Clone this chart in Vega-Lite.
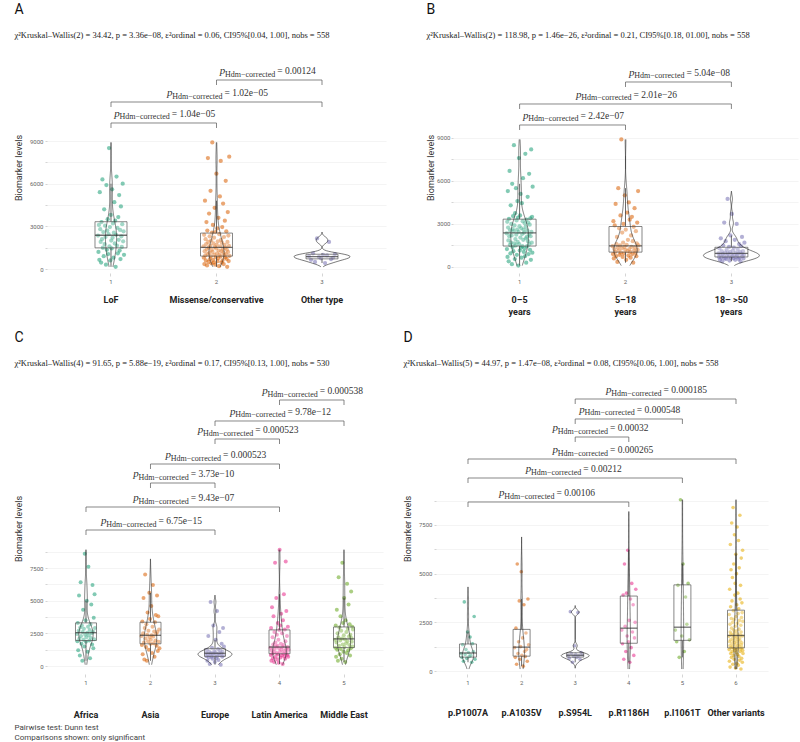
{
"$schema":"https://vega.github.io/schema/vega-lite/v6.json",
"background":"white",
"padding":{"left":14,"top":2,"right":2,"bottom":0},
"config":{"view":{"stroke":null},"font":"Roboto"},
"title":{"text":"Pairwise test: Dunn test","subtitle":"Comparisons shown: only significant","orient":"bottom","anchor":"start","font":"Roboto","fontSize":8,"fontWeight":"normal","color":"#444444","subtitleFont":"Roboto","subtitleFontSize":8,"subtitleColor":"#444444","subtitlePadding":2,"offset":5},
"datasets":{
"A":[{"g":1,"v":2350},{"g":1,"v":1200},{"g":1,"v":3100},{"g":1,"v":650},{"g":1,"v":5400},{"g":1,"v":2800},{"g":1,"v":1900},{"g":1,"v":450},{"g":1,"v":3300},{"g":1,"v":2100},{"g":1,"v":6300},{"g":1,"v":1500},{"g":1,"v":2600},{"g":1,"v":900},{"g":1,"v":4200},{"g":1,"v":1750},{"g":1,"v":3050},{"g":1,"v":2250},{"g":1,"v":300},{"g":1,"v":5900},{"g":1,"v":1350},{"g":1,"v":2700},{"g":1,"v":3500},{"g":1,"v":1050},{"g":1,"v":2450},{"g":1,"v":8500},{"g":1,"v":1600},{"g":1,"v":2950},{"g":1,"v":600},{"g":1,"v":3800},{"g":1,"v":2000},{"g":1,"v":1450},{"g":1,"v":5600},{"g":1,"v":2200},{"g":1,"v":3200},{"g":1,"v":800},{"g":1,"v":2550},{"g":1,"v":4700},{"g":1,"v":1800},{"g":1,"v":3400},{"g":1,"v":150},{"g":1,"v":2400},{"g":1,"v":6500},{"g":1,"v":1650},{"g":1,"v":2900},{"g":1,"v":1100},{"g":1,"v":3650},{"g":1,"v":2050},{"g":1,"v":5200},{"g":1,"v":1300},{"g":1,"v":2750},{"g":1,"v":700},{"g":1,"v":4400},{"g":1,"v":2300},{"g":1,"v":1550},{"g":1,"v":3150},{"g":1,"v":6000},{"g":1,"v":1950},{"g":1,"v":2650},{"g":1,"v":1000},
{"g":2,"v":1600},{"g":2,"v":800},{"g":2,"v":2400},{"g":2,"v":350},{"g":2,"v":1250},{"g":2,"v":4800},{"g":2,"v":950},{"g":2,"v":2100},{"g":2,"v":600},{"g":2,"v":1750},{"g":2,"v":3300},{"g":2,"v":1400},{"g":2,"v":250},{"g":2,"v":2700},{"g":2,"v":1050},{"g":2,"v":7800},{"g":2,"v":1900},{"g":2,"v":500},{"g":2,"v":1500},{"g":2,"v":3900},{"g":2,"v":1150},{"g":2,"v":2300},{"g":2,"v":700},{"g":2,"v":1650},{"g":2,"v":5500},{"g":2,"v":900},{"g":2,"v":2000},{"g":2,"v":400},{"g":2,"v":1350},{"g":2,"v":2550},{"g":2,"v":8900},{"g":2,"v":1200},{"g":2,"v":3100},{"g":2,"v":650},{"g":2,"v":1800},{"g":2,"v":450},{"g":2,"v":2200},{"g":2,"v":1000},{"g":2,"v":4300},{"g":2,"v":1550},{"g":2,"v":300},{"g":2,"v":2600},{"g":2,"v":850},{"g":2,"v":1450},{"g":2,"v":6700},{"g":2,"v":1700},{"g":2,"v":1100},{"g":2,"v":2850},{"g":2,"v":550},{"g":2,"v":1950},{"g":2,"v":750},{"g":2,"v":3600},{"g":2,"v":1300},{"g":2,"v":200},{"g":2,"v":2450},{"g":2,"v":1000},{"g":2,"v":5100},{"g":2,"v":1600},{"g":2,"v":880},{"g":2,"v":7600},{"g":2,"v":2050},{"g":2,"v":1250},{"g":2,"v":450},{"g":2,"v":1850},{"g":2,"v":2950},{"g":2,"v":600},{"g":2,"v":1400},{"g":2,"v":4600},{"g":2,"v":1150},{"g":2,"v":350},{"g":2,"v":2250},{"g":2,"v":980},{"g":2,"v":1700},{"g":2,"v":3400},{"g":2,"v":820},{"g":2,"v":1500},{"g":2,"v":6200},{"g":2,"v":1050},{"g":2,"v":2650},{"g":2,"v":720},{"g":2,"v":1350},{"g":2,"v":150},{"g":2,"v":1900},{"g":2,"v":4000},{"g":2,"v":1200},{"g":2,"v":2350},{"g":2,"v":560},{"g":2,"v":1620},{"g":2,"v":7900},{"g":2,"v":930},
{"g":3,"v":900},{"g":3,"v":650},{"g":3,"v":1100},{"g":3,"v":500},{"g":3,"v":2150},{"g":3,"v":850},{"g":3,"v":750},{"g":3,"v":1000},{"g":3,"v":420},{"g":3,"v":950},{"g":3,"v":1900},{"g":3,"v":700},{"g":3,"v":800},{"g":3,"v":1050}],
"bA":[{"g":1,"g2":2,"v":10266,"lab":"= 1.04e−05"},{"g":1,"g2":3,"v":11742,"lab":"= 1.02e−05"},{"g":2,"g2":3,"v":13289,"lab":"= 0.00124"}],
"B":[{"g":1,"v":2350},{"g":1,"v":1250},{"g":1,"v":3150},{"g":1,"v":700},{"g":1,"v":5300},{"g":1,"v":2750},{"g":1,"v":1850},{"g":1,"v":400},{"g":1,"v":3350},{"g":1,"v":2150},{"g":1,"v":6700},{"g":1,"v":1550},{"g":1,"v":2550},{"g":1,"v":950},{"g":1,"v":4300},{"g":1,"v":1700},{"g":1,"v":3000},{"g":1,"v":2200},{"g":1,"v":200},{"g":1,"v":5800},{"g":1,"v":1400},{"g":1,"v":2650},{"g":1,"v":3550},{"g":1,"v":1100},{"g":1,"v":2500},{"g":1,"v":8500},{"g":1,"v":1650},{"g":1,"v":2900},{"g":1,"v":550},{"g":1,"v":3750},{"g":1,"v":1950},{"g":1,"v":1500},{"g":1,"v":5500},{"g":1,"v":2250},{"g":1,"v":3250},{"g":1,"v":850},{"g":1,"v":2600},{"g":1,"v":4600},{"g":1,"v":1750},{"g":1,"v":3450},{"g":1,"v":100},{"g":1,"v":2450},{"g":1,"v":7600},{"g":1,"v":1600},{"g":1,"v":2850},{"g":1,"v":1150},{"g":1,"v":3600},{"g":1,"v":2050},{"g":1,"v":5100},{"g":1,"v":1350},{"g":1,"v":2700},{"g":1,"v":650},{"g":1,"v":4450},{"g":1,"v":2300},{"g":1,"v":1450},{"g":1,"v":3200},{"g":1,"v":6200},{"g":1,"v":1900},{"g":1,"v":2600},{"g":1,"v":1050},{"g":1,"v":2400},{"g":1,"v":1300},{"g":1,"v":3050},{"g":1,"v":750},{"g":1,"v":7900},{"g":1,"v":2800},{"g":1,"v":2000},{"g":1,"v":300},{"g":1,"v":3300},{"g":1,"v":2100},{"g":1,"v":1450},{"g":1,"v":2550},{"g":1,"v":4900},{"g":1,"v":1800},{"g":1,"v":3100},{"g":1,"v":900},{"g":1,"v":2250},{"g":1,"v":6500},{"g":1,"v":1600},{"g":1,"v":2950},{"g":1,"v":1200},{"g":1,"v":3400},{"g":1,"v":2150},{"g":1,"v":500},{"g":1,"v":8200},{"g":1,"v":2450},{"g":1,"v":1700},{"g":1,"v":3500},{"g":1,"v":1000},{"g":1,"v":5600},
{"g":2,"v":1450},{"g":2,"v":900},{"g":2,"v":3200},{"g":2,"v":600},{"g":2,"v":1250},{"g":2,"v":2900},{"g":2,"v":1050},{"g":2,"v":4400},{"g":2,"v":750},{"g":2,"v":1600},{"g":2,"v":2100},{"g":2,"v":350},{"g":2,"v":1350},{"g":2,"v":5500},{"g":2,"v":1150},{"g":2,"v":2700},{"g":2,"v":850},{"g":2,"v":1500},{"g":2,"v":3600},{"g":2,"v":1000},{"g":2,"v":8900},{"g":2,"v":1300},{"g":2,"v":2400},{"g":2,"v":700},{"g":2,"v":1700},{"g":2,"v":3000},{"g":2,"v":950},{"g":2,"v":1400},{"g":2,"v":5000},{"g":2,"v":1200},{"g":2,"v":2600},{"g":2,"v":500},{"g":2,"v":1550},{"g":2,"v":3800},{"g":2,"v":1100},{"g":2,"v":1900},{"g":2,"v":800},{"g":2,"v":4500},{"g":2,"v":1250},{"g":2,"v":3300},{"g":2,"v":1050},{"g":2,"v":650},{"g":2,"v":2200},{"g":2,"v":1400},{"g":2,"v":3500},{"g":2,"v":900},{"g":2,"v":1800},{"g":2,"v":300},{"g":2,"v":2800},{"g":2,"v":1150},{"g":2,"v":4100},{"g":2,"v":1350},{"g":2,"v":1000},{"g":2,"v":2500},{"g":2,"v":750},{"g":2,"v":1650},{"g":2,"v":3100},{"g":2,"v":1200},{"g":2,"v":5300},{"g":2,"v":1500},
{"g":3,"v":950},{"g":3,"v":700},{"g":3,"v":1300},{"g":3,"v":500},{"g":3,"v":850},{"g":3,"v":2000},{"g":3,"v":650},{"g":3,"v":1100},{"g":3,"v":400},{"g":3,"v":900},{"g":3,"v":1500},{"g":3,"v":750},{"g":3,"v":3100},{"g":3,"v":600},{"g":3,"v":1000},{"g":3,"v":1800},{"g":3,"v":550},{"g":3,"v":1200},{"g":3,"v":800},{"g":3,"v":4750},{"g":3,"v":950},{"g":3,"v":700},{"g":3,"v":1400},{"g":3,"v":450},{"g":3,"v":1050},{"g":3,"v":2200},{"g":3,"v":650},{"g":3,"v":900},{"g":3,"v":3700},{"g":3,"v":750},{"g":3,"v":1150},{"g":3,"v":600},{"g":3,"v":1350},{"g":3,"v":850},{"g":3,"v":1900},{"g":3,"v":500},{"g":3,"v":1000},{"g":3,"v":700},{"g":3,"v":3000},{"g":3,"v":800},{"g":3,"v":1250},{"g":3,"v":950},{"g":3,"v":550},{"g":3,"v":1600},{"g":3,"v":650},{"g":3,"v":1050},{"g":3,"v":400},{"g":3,"v":1450},{"g":3,"v":900},{"g":3,"v":2100},{"g":3,"v":750},{"g":3,"v":1100},{"g":3,"v":600},{"g":3,"v":850},{"g":3,"v":1700}],
"bB":[{"g":1,"g2":2,"v":9907,"lab":"= 2.42e−07"},{"g":1,"g2":3,"v":11372,"lab":"= 2.01e−26"},{"g":2,"g2":3,"v":12907,"lab":"= 5.04e−08"}],
"C":[{"g":1,"v":2450},{"g":1,"v":1900},{"g":1,"v":3300},{"g":1,"v":1200},{"g":1,"v":2700},{"g":1,"v":5400},{"g":1,"v":2100},{"g":1,"v":800},{"g":1,"v":2950},{"g":1,"v":6400},{"g":1,"v":2300},{"g":1,"v":1700},{"g":1,"v":3100},{"g":1,"v":400},{"g":1,"v":2600},{"g":1,"v":4300},{"g":1,"v":2000},{"g":1,"v":2850},{"g":1,"v":1500},{"g":1,"v":8600},{"g":1,"v":2400},{"g":1,"v":3500},{"g":1,"v":1850},{"g":1,"v":2200},{"g":1,"v":5000},{"g":1,"v":2550},{"g":1,"v":1100},{"g":1,"v":3000},{"g":1,"v":7600},{"g":1,"v":2350},{"g":1,"v":1950},{"g":1,"v":2750},{"g":1,"v":600},{"g":1,"v":3200},{"g":1,"v":2150},{"g":1,"v":4700},{"g":1,"v":2500},{"g":1,"v":1650},{"g":1,"v":6200},{"g":1,"v":2650},{"g":1,"v":1350},{"g":1,"v":3700},{"g":1,"v":2050},{"g":1,"v":5500},{"g":1,"v":2900},
{"g":2,"v":2300},{"g":2,"v":1600},{"g":2,"v":3400},{"g":2,"v":900},{"g":2,"v":2500},{"g":2,"v":5200},{"g":2,"v":1800},{"g":2,"v":500},{"g":2,"v":2900},{"g":2,"v":7000},{"g":2,"v":2100},{"g":2,"v":1450},{"g":2,"v":3200},{"g":2,"v":400},{"g":2,"v":2400},{"g":2,"v":4100},{"g":2,"v":1900},{"g":2,"v":2700},{"g":2,"v":1250},{"g":2,"v":5600},{"g":2,"v":2200},{"g":2,"v":3600},{"g":2,"v":1700},{"g":2,"v":2000},{"g":2,"v":4600},{"g":2,"v":2350},{"g":2,"v":1000},{"g":2,"v":3000},{"g":2,"v":6200},{"g":2,"v":2250},{"g":2,"v":1750},{"g":2,"v":2650},{"g":2,"v":700},{"g":2,"v":3350},{"g":2,"v":1950},{"g":2,"v":3900},{"g":2,"v":2450},{"g":2,"v":1550},{"g":2,"v":5400},{"g":2,"v":2600},{"g":2,"v":1150},{"g":2,"v":3800},{"g":2,"v":1850},{"g":2,"v":2800},{"g":2,"v":1350},
{"g":3,"v":1000},{"g":3,"v":750},{"g":3,"v":1250},{"g":3,"v":400},{"g":3,"v":900},{"g":3,"v":2300},{"g":3,"v":650},{"g":3,"v":1100},{"g":3,"v":150},{"g":3,"v":850},{"g":3,"v":4900},{"g":3,"v":1000},{"g":3,"v":700},{"g":3,"v":1400},{"g":3,"v":550},{"g":3,"v":950},{"g":3,"v":3100},{"g":3,"v":800},{"g":3,"v":1150},{"g":3,"v":300},{"g":3,"v":1050},{"g":3,"v":2000},{"g":3,"v":600},{"g":3,"v":900},{"g":3,"v":4200},{"g":3,"v":750},{"g":3,"v":1300},{"g":3,"v":450},{"g":3,"v":1000},{"g":3,"v":2600},{"g":3,"v":850},{"g":3,"v":1200},{"g":3,"v":100},{"g":3,"v":950},{"g":3,"v":1700},{"g":3,"v":700},{"g":3,"v":1100},{"g":3,"v":2900},{"g":3,"v":800},{"g":3,"v":1500},
{"g":4,"v":1400},{"g":4,"v":850},{"g":4,"v":2900},{"g":4,"v":400},{"g":4,"v":1200},{"g":4,"v":4500},{"g":4,"v":950},{"g":4,"v":2200},{"g":4,"v":600},{"g":4,"v":1650},{"g":4,"v":3800},{"g":4,"v":1050},{"g":4,"v":300},{"g":4,"v":2600},{"g":4,"v":1300},{"g":4,"v":7900},{"g":4,"v":1800},{"g":4,"v":700},{"g":4,"v":1500},{"g":4,"v":5200},{"g":4,"v":1000},{"g":4,"v":2400},{"g":4,"v":500},{"g":4,"v":1550},{"g":4,"v":3300},{"g":4,"v":900},{"g":4,"v":2000},{"g":4,"v":250},{"g":4,"v":1350},{"g":4,"v":2750},{"g":4,"v":8900},{"g":4,"v":1100},{"g":4,"v":3100},{"g":4,"v":650},{"g":4,"v":1700},{"g":4,"v":4000},{"g":4,"v":1250},{"g":4,"v":800},{"g":4,"v":2500},{"g":4,"v":1450},{"g":4,"v":150},{"g":4,"v":3500},{"g":4,"v":950},{"g":4,"v":1600},{"g":4,"v":5500},{"g":4,"v":1150},{"g":4,"v":750},{"g":4,"v":2800},{"g":4,"v":550},{"g":4,"v":1900},{"g":4,"v":8000},{"g":4,"v":1300},{"g":4,"v":4200},{"g":4,"v":1000},{"g":4,"v":2300},{"g":4,"v":850},{"g":4,"v":1450},{"g":4,"v":3000},{"g":4,"v":700},{"g":4,"v":1250},
{"g":5,"v":2000},{"g":5,"v":1400},{"g":5,"v":3100},{"g":5,"v":700},{"g":5,"v":1800},{"g":5,"v":4300},{"g":5,"v":1250},{"g":5,"v":2500},{"g":5,"v":400},{"g":5,"v":2200},{"g":5,"v":6800},{"g":5,"v":1550},{"g":5,"v":2950},{"g":5,"v":900},{"g":5,"v":1950},{"g":5,"v":3800},{"g":5,"v":1300},{"g":5,"v":2700},{"g":5,"v":550},{"g":5,"v":2100},{"g":5,"v":7900},{"g":5,"v":1650},{"g":5,"v":3300},{"g":5,"v":1100},{"g":5,"v":2350},{"g":5,"v":5200},{"g":5,"v":1450},{"g":5,"v":2050},{"g":5,"v":300},{"g":5,"v":3500},{"g":5,"v":1750},{"g":5,"v":2600},{"g":5,"v":1000},{"g":5,"v":6300},{"g":5,"v":1900},{"g":5,"v":2850},{"g":5,"v":1200},{"g":5,"v":4700},{"g":5,"v":2250},{"g":5,"v":1600},{"g":5,"v":3200},{"g":5,"v":800},{"g":5,"v":2400},{"g":5,"v":1350},{"g":5,"v":5700},{"g":5,"v":2150},{"g":5,"v":1850},{"g":5,"v":3000},{"g":5,"v":1500},{"g":5,"v":2800}],
"bC":[{"g":1,"g2":3,"v":10408,"lab":"= 6.75e−15"},{"g":1,"g2":4,"v":12168,"lab":"= 9.43e−07"},{"g":2,"g2":3,"v":14005,"lab":"= 3.73e−10"},{"g":2,"g2":4,"v":15459,"lab":"= 0.000523"},{"g":3,"g2":4,"v":17372,"lab":"= 0.000523"},{"g":3,"g2":5,"v":18750,"lab":"= 9.78e−12"},{"g":4,"g2":5,"v":20357,"lab":"= 0.000538"}],
"D":[{"g":1,"v":900},{"g":1,"v":700},{"g":1,"v":1350},{"g":1,"v":500},{"g":1,"v":3550},{"g":1,"v":850},{"g":1,"v":1100},{"g":1,"v":650},{"g":1,"v":2000},{"g":1,"v":950},{"g":1,"v":750},{"g":1,"v":1750},{"g":1,"v":800},{"g":1,"v":450},{"g":1,"v":1400},{"g":1,"v":1000},{"g":1,"v":2800},{"g":1,"v":600},
{"g":2,"v":1200},{"g":2,"v":700},{"g":2,"v":2200},{"g":2,"v":350},{"g":2,"v":5500},{"g":2,"v":900},{"g":2,"v":1500},{"g":2,"v":3600},{"g":2,"v":600},{"g":2,"v":1250},{"g":2,"v":5100},{"g":2,"v":800},{"g":2,"v":1700},{"g":2,"v":250},{"g":2,"v":3400},{"g":2,"v":1000},{"g":2,"v":750},{"g":2,"v":1950},{"g":2,"v":1100},{"g":2,"v":500},{"g":2,"v":3700},{"g":2,"v":1350},
{"g":3,"v":800},{"g":3,"v":650},{"g":3,"v":3050},{"g":3,"v":900},{"g":3,"v":450},{"g":3,"v":750},{"g":3,"v":1300},{"g":3,"v":850},{"g":3,"v":700},{"g":3,"v":3000},{"g":3,"v":780},{"g":3,"v":600},{"g":3,"v":950},{"g":3,"v":820},
{"g":4,"v":2100},{"g":4,"v":1400},{"g":4,"v":3900},{"g":4,"v":600},{"g":4,"v":5500},{"g":4,"v":2300},{"g":4,"v":1000},{"g":4,"v":4000},{"g":4,"v":1800},{"g":4,"v":6200},{"g":4,"v":1500},{"g":4,"v":2600},{"g":4,"v":450},{"g":4,"v":3700},{"g":4,"v":1200},{"g":4,"v":4500},{"g":4,"v":2000},{"g":4,"v":3400},{"g":4,"v":800},{"g":4,"v":1700},{"g":4,"v":2500},{"g":4,"v":4200},
{"g":5,"v":2100},{"g":5,"v":1500},{"g":5,"v":4400},{"g":5,"v":700},{"g":5,"v":8800},{"g":5,"v":1800},{"g":5,"v":5500},{"g":5,"v":1000},{"g":5,"v":3800},{"g":5,"v":2400},{"g":5,"v":4500},{"g":5,"v":1600},
{"g":6,"v":1780},{"g":6,"v":1100},{"g":6,"v":2900},{"g":6,"v":500},{"g":6,"v":1500},{"g":6,"v":4200},{"g":6,"v":1300},{"g":6,"v":2400},{"g":6,"v":200},{"g":6,"v":2000},{"g":6,"v":6500},{"g":6,"v":1600},{"g":6,"v":3300},{"g":6,"v":900},{"g":6,"v":1900},{"g":6,"v":5200},{"g":6,"v":1200},{"g":6,"v":2700},{"g":6,"v":700},{"g":6,"v":2200},{"g":6,"v":7600},{"g":6,"v":1400},{"g":6,"v":3600},{"g":6,"v":1000},{"g":6,"v":1850},{"g":6,"v":4800},{"g":6,"v":1250},{"g":6,"v":2500},{"g":6,"v":350},{"g":6,"v":1700},{"g":6,"v":8400},{"g":6,"v":1550},{"g":6,"v":3100},{"g":6,"v":800},{"g":6,"v":2100},{"g":6,"v":5500},{"g":6,"v":1150},{"g":6,"v":2650},{"g":6,"v":600},{"g":6,"v":1950},{"g":6,"v":7000},{"g":6,"v":1450},{"g":6,"v":3900},{"g":6,"v":1050},{"g":6,"v":1800},{"g":6,"v":4500},{"g":6,"v":1350},{"g":6,"v":2300},{"g":6,"v":150},{"g":6,"v":1650},{"g":6,"v":6000},{"g":6,"v":1200},{"g":6,"v":2800},{"g":6,"v":950},{"g":6,"v":2050},{"g":6,"v":5000},{"g":6,"v":1500},{"g":6,"v":3400},{"g":6,"v":400},{"g":6,"v":1750},{"g":6,"v":7400},{"g":6,"v":1100},{"g":6,"v":2450},{"g":6,"v":850},{"g":6,"v":1900},{"g":6,"v":4000},{"g":6,"v":1300},{"g":6,"v":2950},{"g":6,"v":300},{"g":6,"v":1600},{"g":6,"v":6700},{"g":6,"v":1400},{"g":6,"v":3200},{"g":6,"v":750},{"g":6,"v":2150},{"g":6,"v":5300},{"g":6,"v":1250},{"g":6,"v":2600},{"g":6,"v":550},{"g":6,"v":1700},{"g":6,"v":8000},{"g":6,"v":1550},{"g":6,"v":3700},{"g":6,"v":1000},{"g":6,"v":1850},{"g":6,"v":4400},{"g":6,"v":1150},{"g":6,"v":2350},{"g":6,"v":100},{"g":6,"v":2000},{"g":6,"v":5800},{"g":6,"v":1350},{"g":6,"v":2750},{"g":6,"v":650},{"g":6,"v":1450},{"g":6,"v":3500},{"g":6,"v":1200},{"g":6,"v":3000},{"g":6,"v":450},{"g":6,"v":1800},{"g":6,"v":6200},{"g":6,"v":1050},{"g":6,"v":2550},{"g":6,"v":900}],
"bD":[{"g":1,"g2":4,"v":8681,"lab":"= 0.00106"},{"g":1,"g2":5,"v":9914,"lab":"= 0.00212"},{"g":1,"g2":6,"v":10890,"lab":"= 0.000265"},{"g":3,"g2":4,"v":12020,"lab":"= 0.00032"},{"g":3,"g2":5,"v":12945,"lab":"= 0.000548"},{"g":3,"g2":6,"v":13972,"lab":"= 0.000185"}]
},
"spacing":14,
"resolve":{"scale":{"color":"independent","xOffset":"independent"}},
"vconcat":[
{"hconcat":[
{
"title":{"text":"A","subtitle":"χ²Kruskal–Wallis(2) = 34.42, p = 3.36e−08, ε²ordinal = 0.06, CI95%[0.04, 1.00], nobs = 558","anchor":"start","font":"Roboto","fontSize":14,"fontWeight":"normal","color":"#111111","subtitleFont":"Liberation Serif","subtitleFontSize":8.5,"subtitleColor":"#222222","subtitlePadding":14,"offset":23},
"width":339,"height":211,
"encoding":{"y":{"field":"v","type":"quantitative","scale":{"domain":[-281,14555],"nice":false,"zero":false},"axis":{"values":[0,1500,3000,4500,6000,7500,9000],"labelExpr":"datum.value % 3000 == 0 ? datum.label : ''","format":"d","labelFontSize":6,"labelColor":"#666666","labelFont":"Roboto","tickSize":2,"tickColor":"#aaaaaa","tickWidth":0.5,"domain":false,"grid":true,"gridColor":"#ececec","gridWidth":0.6,"title":"Biomarker levels","titleFont":"Roboto","titleFontSize":9,"titleFontWeight":"normal","titleColor":"#333333","titlePadding":6,"labelPadding":2}}},
"layer":[
{"data":{"name":"A"},"transform":[{"aggregate":[{"op":"count","as":"n"}],"groupby":["g"]}],"mark":{"type":"rule","stroke":"#ececec","strokeWidth":0.6},"encoding":{"x":{"field":"g","type":"ordinal","axis":null},"y":{"datum":-281},"y2":{"datum":9100}}},
{"data":{"name":"A"},"transform":[{"window":[{"op":"row_number","as":"rn"}]},{"window":[{"op":"percent_rank","as":"jx"}],"groupby":["g"],"sort":[{"field":"rn"}]}],
"mark":{"type":"circle","size":18,"opacity":0.55},
"encoding":{"x":{"field":"g","type":"ordinal","scale":{"type":"band","domain":[1,1.5,2,2.5,3],"paddingInner":0,"paddingOuter":0.713},"axis":{"values":[1,2,3],"labelFontSize":6,"labelColor":"#666666","labelFont":"Roboto","labelAngle":0,"tickSize":3,"tickColor":"#aaaaaa","tickWidth":0.5,"domain":false,"grid":false,"title":null,"labelPadding":2}},
"xOffset":{"field":"jx","type":"quantitative","scale":{"domain":[0,1],"range":[13.4,39.4]}},
"color":{"field":"g","type":"nominal","scale":{"domain":[1,2,3,4,5,6],"range":["#1B9E77","#D95F02","#7570B3","#E7298A","#66A61E","#E6AB02"]},"legend":null}}},
{"data":{"name":"A"},"mark":{"type":"boxplot","orient":"vertical","extent":1.5,"size":32,"outliers":false,"box":{"fill":"#ffffff","fillOpacity":0.25,"stroke":"#555555","strokeWidth":0.7},"median":{"color":"#333333","thickness":1.3},"rule":{"color":"#444444","strokeWidth":0.8}},
"encoding":{"x":{"field":"g","type":"ordinal","axis":null}}},
{"data":{"name":"A"},"transform":[{"density":"v","groupby":["g"],"as":["v","dens"]},{"filter":"datum.dens > 0.000002"}],
"mark":{"type":"line","color":"#222222","strokeWidth":0.6},
"encoding":{"x":{"field":"g","type":"ordinal","axis":{"orient":"bottom","values":[1,2,3],"labelExpr":"datum.value == 1 ? 'LoF' : datum.value == 2 ? 'Missense/conservative' : 'Other type'","labelFontSize":9,"labelFont":"Roboto","labelFontWeight":"bold","labelColor":"#222222","labelPadding":22,"labelAngle":0,"ticks":false,"domain":false,"grid":false,"title":null}},
"xOffset":{"field":"dens","type":"quantitative","scale":{"domainMin":0,"nice":false,"range":[26.4,54.4]}},"detail":{"field":"g","type":"nominal"},"order":{"field":"v","type":"quantitative"}}},
{"data":{"name":"A"},"transform":[{"density":"v","groupby":["g"],"as":["v","dens"]},{"filter":"datum.dens > 0.000002"}],
"mark":{"type":"line","color":"#222222","strokeWidth":0.6},
"encoding":{"x":{"field":"g","type":"ordinal","axis":null},
"xOffset":{"field":"dens","type":"quantitative","scale":{"domainMin":0,"nice":false,"range":[26.4,-1.6]}},"detail":{"field":"g","type":"nominal"},"order":{"field":"v","type":"quantitative"}}},
{"data":{"name":"bA"},"transform":[{"fold":["g","g2"],"as":["k","gx"]},{"joinaggregate":[{"op":"mean","field":"gx","as":"gm"}],"groupby":["lab","v"]},{"filter":"datum.k == 'g'"}],
"layer":[
{"mark":{"type":"rule","color":"#555555","strokeWidth":0.7},"encoding":{"x":{"field":"g","type":"ordinal","axis":null},"x2":{"field":"g2"}}},
{"mark":{"type":"rule","color":"#555555","strokeWidth":0.7,"y2Offset":5},"encoding":{"x":{"field":"g","type":"ordinal","axis":null},"y2":{"field":"v"}}},
{"mark":{"type":"rule","color":"#555555","strokeWidth":0.7,"y2Offset":5},"encoding":{"x":{"field":"g2","type":"ordinal","axis":null},"y2":{"field":"v"}}},
{"mark":{"type":"text","text":"p","font":"Liberation Serif","fontStyle":"italic","fontSize":11,"align":"right","baseline":"alphabetic","dx":-44,"dy":-6,"color":"#333333"},"encoding":{"x":{"field":"gm","type":"ordinal","axis":null}}},
{"mark":{"type":"text","text":"Hdm−corrected","font":"Liberation Serif","fontSize":8,"align":"right","baseline":"alphabetic","dx":6,"dy":-3.5,"color":"#333333"},"encoding":{"x":{"field":"gm","type":"ordinal","axis":null}}},
{"mark":{"type":"text","font":"Liberation Serif","fontSize":9.5,"align":"left","baseline":"alphabetic","dx":8,"dy":-6,"color":"#333333"},"encoding":{"x":{"field":"gm","type":"ordinal","axis":null},"text":{"field":"lab"}}}
]}
],
"resolve":{"axis":{"x":"independent"},"scale":{"xOffset":"independent"}}
},
{
"title":{"text":"B","subtitle":"χ²Kruskal–Wallis(2) = 118.98, p = 1.46e−26, ε²ordinal = 0.21, CI95%[0.18, 01.00], nobs = 558","anchor":"start","font":"Roboto","fontSize":14,"fontWeight":"normal","color":"#111111","subtitleFont":"Liberation Serif","subtitleFontSize":8.5,"subtitleColor":"#222222","subtitlePadding":14,"offset":23},
"width":345,"height":211,
"encoding":{"y":{"field":"v","type":"quantitative","scale":{"domain":[-419,14302],"nice":false,"zero":false},"axis":{"values":[0,1500,3000,4500,6000,7500,9000],"labelExpr":"datum.value % 3000 == 0 ? datum.label : ''","format":"d","labelFontSize":6,"labelColor":"#666666","labelFont":"Roboto","tickSize":2,"tickColor":"#aaaaaa","tickWidth":0.5,"domain":false,"grid":true,"gridColor":"#ececec","gridWidth":0.6,"title":"Biomarker levels","titleFont":"Roboto","titleFontSize":9,"titleFontWeight":"normal","titleColor":"#333333","titlePadding":1,"labelPadding":1}}},
"layer":[
{"data":{"name":"B"},"transform":[{"aggregate":[{"op":"count","as":"n"}],"groupby":["g"]}],"mark":{"type":"rule","stroke":"#ececec","strokeWidth":0.6},"encoding":{"x":{"field":"g","type":"ordinal","axis":null},"y":{"datum":-419},"y2":{"datum":9100}}},
{"data":{"name":"B"},"transform":[{"window":[{"op":"row_number","as":"rn"}]},{"window":[{"op":"percent_rank","as":"jx"}],"groupby":["g"],"sort":[{"field":"rn"}]}],
"mark":{"type":"circle","size":18,"opacity":0.55},
"encoding":{"x":{"field":"g","type":"ordinal","scale":{"type":"band","domain":[1,1.5,2,2.5,3],"paddingInner":0,"paddingOuter":0.758},"axis":{"values":[1,2,3],"labelFontSize":6,"labelColor":"#666666","labelFont":"Roboto","labelAngle":0,"tickSize":3,"tickColor":"#aaaaaa","tickWidth":0.5,"domain":false,"grid":false,"title":null,"labelPadding":2}},
"xOffset":{"field":"jx","type":"quantitative","scale":{"domain":[0,1],"range":[13.5,39.5]}},
"color":{"field":"g","type":"nominal","scale":{"domain":[1,2,3,4,5,6],"range":["#1B9E77","#D95F02","#7570B3","#E7298A","#66A61E","#E6AB02"]},"legend":null}}},
{"data":{"name":"B"},"mark":{"type":"boxplot","orient":"vertical","extent":1.5,"size":33,"outliers":false,"box":{"fill":"#ffffff","fillOpacity":0.25,"stroke":"#555555","strokeWidth":0.7},"median":{"color":"#333333","thickness":1.3},"rule":{"color":"#444444","strokeWidth":0.8}},
"encoding":{"x":{"field":"g","type":"ordinal","axis":null}}},
{"data":{"name":"B"},"transform":[{"density":"v","groupby":["g"],"as":["v","dens"]},{"filter":"datum.dens > 0.000002"}],
"mark":{"type":"line","color":"#222222","strokeWidth":0.6},
"encoding":{"x":{"field":"g","type":"ordinal","axis":{"orient":"bottom","values":[1,2,3],"labelExpr":"datum.value == 1 ? ['0–5','years'] : datum.value == 2 ? ['5–18','years'] : ['18– >50','years']","labelFontSize":9,"labelFont":"Roboto","labelFontWeight":"bold","labelColor":"#222222","labelPadding":22,"labelLineHeight":12,"labelAngle":0,"ticks":false,"domain":false,"grid":false,"title":null}},
"xOffset":{"field":"dens","type":"quantitative","scale":{"domainMin":0,"nice":false,"range":[26.5,54.5]}},"detail":{"field":"g","type":"nominal"},"order":{"field":"v","type":"quantitative"}}},
{"data":{"name":"B"},"transform":[{"density":"v","groupby":["g"],"as":["v","dens"]},{"filter":"datum.dens > 0.000002"}],
"mark":{"type":"line","color":"#222222","strokeWidth":0.6},
"encoding":{"x":{"field":"g","type":"ordinal","axis":null},
"xOffset":{"field":"dens","type":"quantitative","scale":{"domainMin":0,"nice":false,"range":[26.5,-1.5]}},"detail":{"field":"g","type":"nominal"},"order":{"field":"v","type":"quantitative"}}},
{"data":{"name":"bB"},"transform":[{"fold":["g","g2"],"as":["k","gx"]},{"joinaggregate":[{"op":"mean","field":"gx","as":"gm"}],"groupby":["lab","v"]},{"filter":"datum.k == 'g'"}],
"layer":[
{"mark":{"type":"rule","color":"#555555","strokeWidth":0.7},"encoding":{"x":{"field":"g","type":"ordinal","axis":null},"x2":{"field":"g2"}}},
{"mark":{"type":"rule","color":"#555555","strokeWidth":0.7,"y2Offset":5},"encoding":{"x":{"field":"g","type":"ordinal","axis":null},"y2":{"field":"v"}}},
{"mark":{"type":"rule","color":"#555555","strokeWidth":0.7,"y2Offset":5},"encoding":{"x":{"field":"g2","type":"ordinal","axis":null},"y2":{"field":"v"}}},
{"mark":{"type":"text","text":"p","font":"Liberation Serif","fontStyle":"italic","fontSize":11,"align":"right","baseline":"alphabetic","dx":-44,"dy":-6,"color":"#333333"},"encoding":{"x":{"field":"gm","type":"ordinal","axis":null}}},
{"mark":{"type":"text","text":"Hdm−corrected","font":"Liberation Serif","fontSize":8,"align":"right","baseline":"alphabetic","dx":6,"dy":-3.5,"color":"#333333"},"encoding":{"x":{"field":"gm","type":"ordinal","axis":null}}},
{"mark":{"type":"text","font":"Liberation Serif","fontSize":9.5,"align":"left","baseline":"alphabetic","dx":8,"dy":-6,"color":"#333333"},"encoding":{"x":{"field":"gm","type":"ordinal","axis":null},"text":{"field":"lab"}}}
]}
],
"resolve":{"axis":{"x":"independent"},"scale":{"xOffset":"independent"}}
}
],"spacing":40,"resolve":{"scale":{"color":"independent","xOffset":"independent"}}},
{"hconcat":[
{
"title":{"text":"C","subtitle":"χ²Kruskal–Wallis(4) = 91.65, p = 5.88e−19, ε²ordinal = 0.17, CI95%[0.13, 1.00], nobs = 530","anchor":"start","font":"Roboto","fontSize":14,"fontWeight":"normal","color":"#111111","subtitleFont":"Liberation Serif","subtitleFontSize":8.5,"subtitleColor":"#222222","subtitlePadding":14,"offset":16},
"width":336,"height":291,
"encoding":{"y":{"field":"v","type":"quantitative","scale":{"domain":[-612,21658],"nice":false,"zero":false},"axis":{"values":[0,1250,2500,3750,5000,6250,7500,8750],"labelExpr":"datum.value % 2500 == 0 ? datum.label : ''","format":"d","labelFontSize":6,"labelColor":"#666666","labelFont":"Roboto","tickSize":2,"tickColor":"#aaaaaa","tickWidth":0.5,"domain":false,"grid":true,"gridColor":"#ececec","gridWidth":0.6,"title":"Biomarker levels","titleFont":"Roboto","titleFontSize":9,"titleFontWeight":"normal","titleColor":"#333333","titlePadding":6,"labelPadding":2}}},
"layer":[
{"data":{"name":"C"},"transform":[{"aggregate":[{"op":"count","as":"n"}],"groupby":["g"]}],"mark":{"type":"rule","stroke":"#ececec","strokeWidth":0.6},"encoding":{"x":{"field":"g","type":"ordinal","axis":null},"y":{"datum":-612},"y2":{"datum":8800}}},
{"data":{"name":"C"},"transform":[{"window":[{"op":"row_number","as":"rn"}]},{"window":[{"op":"percent_rank","as":"jx"}],"groupby":["g"],"sort":[{"field":"rn"}]}],
"mark":{"type":"circle","size":16,"opacity":0.55},
"encoding":{"x":{"field":"g","type":"ordinal","scale":{"type":"band","domain":[1,1.5,2,2.5,3,3.5,4,4.5,5],"paddingInner":0,"paddingOuter":0.709},"axis":{"values":[1,2,3,4,5],"labelFontSize":6,"labelColor":"#666666","labelFont":"Roboto","labelAngle":0,"tickSize":3,"tickColor":"#aaaaaa","tickWidth":0.5,"domain":false,"grid":false,"title":null,"labelPadding":2}},
"xOffset":{"field":"jx","type":"quantitative","scale":{"domain":[0,1],"range":[7.1,25.1]}},
"color":{"field":"g","type":"nominal","scale":{"domain":[1,2,3,4,5,6],"range":["#1B9E77","#D95F02","#7570B3","#E7298A","#66A61E","#E6AB02"]},"legend":null}}},
{"data":{"name":"C"},"mark":{"type":"boxplot","orient":"vertical","extent":1.5,"size":21,"outliers":false,"box":{"fill":"#ffffff","fillOpacity":0.25,"stroke":"#555555","strokeWidth":0.7},"median":{"color":"#333333","thickness":1.3},"rule":{"color":"#444444","strokeWidth":0.8}},
"encoding":{"x":{"field":"g","type":"ordinal","axis":null}}},
{"data":{"name":"C"},"transform":[{"density":"v","groupby":["g"],"as":["v","dens"]},{"filter":"datum.dens > 0.000002"}],
"mark":{"type":"line","color":"#222222","strokeWidth":0.6},
"encoding":{"x":{"field":"g","type":"ordinal","axis":{"orient":"bottom","values":[1,2,3,4,5],"labelExpr":"['Africa','Asia','Europe','Latin America','Middle East'][datum.value - 1]","labelFontSize":9,"labelFont":"Roboto","labelFontWeight":"bold","labelColor":"#222222","labelPadding":36,"labelAngle":0,"ticks":false,"domain":false,"grid":false,"title":null}},
"xOffset":{"field":"dens","type":"quantitative","scale":{"domainMin":0,"nice":false,"range":[16.1,33.1]}},"detail":{"field":"g","type":"nominal"},"order":{"field":"v","type":"quantitative"}}},
{"data":{"name":"C"},"transform":[{"density":"v","groupby":["g"],"as":["v","dens"]},{"filter":"datum.dens > 0.000002"}],
"mark":{"type":"line","color":"#222222","strokeWidth":0.6},
"encoding":{"x":{"field":"g","type":"ordinal","axis":null},
"xOffset":{"field":"dens","type":"quantitative","scale":{"domainMin":0,"nice":false,"range":[16.1,-0.9]}},"detail":{"field":"g","type":"nominal"},"order":{"field":"v","type":"quantitative"}}},
{"data":{"name":"bC"},"transform":[{"fold":["g","g2"],"as":["k","gx"]},{"joinaggregate":[{"op":"mean","field":"gx","as":"gm"}],"groupby":["lab","v"]},{"filter":"datum.k == 'g'"}],
"layer":[
{"mark":{"type":"rule","color":"#555555","strokeWidth":0.7},"encoding":{"x":{"field":"g","type":"ordinal","axis":null},"x2":{"field":"g2"}}},
{"mark":{"type":"rule","color":"#555555","strokeWidth":0.7,"y2Offset":5},"encoding":{"x":{"field":"g","type":"ordinal","axis":null},"y2":{"field":"v"}}},
{"mark":{"type":"rule","color":"#555555","strokeWidth":0.7,"y2Offset":5},"encoding":{"x":{"field":"g2","type":"ordinal","axis":null},"y2":{"field":"v"}}},
{"mark":{"type":"text","text":"p","font":"Liberation Serif","fontStyle":"italic","fontSize":11,"align":"right","baseline":"alphabetic","dx":-44,"dy":-6,"color":"#333333"},"encoding":{"x":{"field":"gm","type":"ordinal","axis":null}}},
{"mark":{"type":"text","text":"Hdm−corrected","font":"Liberation Serif","fontSize":8,"align":"right","baseline":"alphabetic","dx":6,"dy":-3.5,"color":"#333333"},"encoding":{"x":{"field":"gm","type":"ordinal","axis":null}}},
{"mark":{"type":"text","font":"Liberation Serif","fontSize":9.5,"align":"left","baseline":"alphabetic","dx":8,"dy":-6,"color":"#333333"},"encoding":{"x":{"field":"gm","type":"ordinal","axis":null},"text":{"field":"lab"}}}
]}
],
"resolve":{"axis":{"x":"independent"},"scale":{"xOffset":"independent"}}
},
{
"title":{"text":"D","subtitle":"χ²Kruskal–Wallis(5) = 44.97, p = 1.47e−08, ε²ordinal = 0.08, CI95%[0.06, 1.00], nobs = 558","anchor":"start","font":"Roboto","fontSize":14,"fontWeight":"normal","color":"#111111","subtitleFont":"Liberation Serif","subtitleFontSize":8.5,"subtitleColor":"#222222","subtitlePadding":14,"offset":16},
"width":332,"height":291,
"encoding":{"y":{"field":"v","type":"quantitative","scale":{"domain":[-154,14794],"nice":false,"zero":false},"axis":{"values":[0,1250,2500,3750,5000,6250,7500,8750],"labelExpr":"datum.value % 2500 == 0 ? datum.label : ''","format":"d","labelFontSize":6,"labelColor":"#666666","labelFont":"Roboto","tickSize":2,"tickColor":"#aaaaaa","tickWidth":0.5,"domain":false,"grid":true,"gridColor":"#ececec","gridWidth":0.6,"title":"Biomarker levels","titleFont":"Roboto","titleFontSize":9,"titleFontWeight":"normal","titleColor":"#333333","titlePadding":6,"labelPadding":2}}},
"layer":[
{"data":{"name":"D"},"transform":[{"aggregate":[{"op":"count","as":"n"}],"groupby":["g"]}],"mark":{"type":"rule","stroke":"#ececec","strokeWidth":0.6},"encoding":{"x":{"field":"g","type":"ordinal","axis":null},"y":{"datum":-154},"y2":{"datum":9300}}},
{"data":{"name":"D"},"transform":[{"window":[{"op":"row_number","as":"rn"}]},{"window":[{"op":"percent_rank","as":"jx"}],"groupby":["g"],"sort":[{"field":"rn"}]}],
"mark":{"type":"circle","size":13,"opacity":0.55},
"encoding":{"x":{"field":"g","type":"ordinal","scale":{"type":"band","domain":[1,1.5,2,2.5,3,3.5,4,4.5,5,5.5,6],"paddingInner":0,"paddingOuter":0.694},"axis":{"values":[1,2,3,4,5,6],"labelFontSize":6,"labelColor":"#666666","labelFont":"Roboto","labelAngle":0,"tickSize":3,"tickColor":"#aaaaaa","tickWidth":0.5,"domain":false,"grid":false,"title":null,"labelPadding":2}},
"xOffset":{"field":"jx","type":"quantitative","scale":{"domain":[0,1],"range":[6.4,20.4]}},
"color":{"field":"g","type":"nominal","scale":{"domain":[1,2,3,4,5,6],"range":["#1B9E77","#D95F02","#7570B3","#E7298A","#66A61E","#E6AB02"]},"legend":null}}},
{"data":{"name":"D"},"mark":{"type":"boxplot","orient":"vertical","extent":1.5,"size":17,"outliers":false,"box":{"fill":"#ffffff","fillOpacity":0.25,"stroke":"#555555","strokeWidth":0.7},"median":{"color":"#333333","thickness":1.3},"rule":{"color":"#444444","strokeWidth":0.8}},
"encoding":{"x":{"field":"g","type":"ordinal","axis":null}}},
{"data":{"name":"D"},"transform":[{"density":"v","groupby":["g"],"as":["v","dens"]},{"filter":"datum.dens > 0.000002"}],
"mark":{"type":"line","color":"#222222","strokeWidth":0.6},
"encoding":{"x":{"field":"g","type":"ordinal","axis":{"orient":"bottom","values":[1,2,3,4,5,6],"labelExpr":"['p.P1007A','p.A1035V','p.S954L','p.R1186H','p.I1061T','Other variants'][datum.value - 1]","labelFontSize":9,"labelFont":"Roboto","labelFontWeight":"bold","labelColor":"#222222","labelPadding":34,"labelAngle":0,"ticks":false,"domain":false,"grid":false,"title":null}},
"xOffset":{"field":"dens","type":"quantitative","scale":{"domainMin":0,"nice":false,"range":[13.4,27.4]}},"detail":{"field":"g","type":"nominal"},"order":{"field":"v","type":"quantitative"}}},
{"data":{"name":"D"},"transform":[{"density":"v","groupby":["g"],"as":["v","dens"]},{"filter":"datum.dens > 0.000002"}],
"mark":{"type":"line","color":"#222222","strokeWidth":0.6},
"encoding":{"x":{"field":"g","type":"ordinal","axis":null},
"xOffset":{"field":"dens","type":"quantitative","scale":{"domainMin":0,"nice":false,"range":[13.4,-0.6]}},"detail":{"field":"g","type":"nominal"},"order":{"field":"v","type":"quantitative"}}},
{"data":{"name":"bD"},"transform":[{"fold":["g","g2"],"as":["k","gx"]},{"joinaggregate":[{"op":"mean","field":"gx","as":"gm"}],"groupby":["lab","v"]},{"filter":"datum.k == 'g'"}],
"layer":[
{"mark":{"type":"rule","color":"#555555","strokeWidth":0.7},"encoding":{"x":{"field":"g","type":"ordinal","axis":null},"x2":{"field":"g2"}}},
{"mark":{"type":"rule","color":"#555555","strokeWidth":0.7,"y2Offset":5},"encoding":{"x":{"field":"g","type":"ordinal","axis":null},"y2":{"field":"v"}}},
{"mark":{"type":"rule","color":"#555555","strokeWidth":0.7,"y2Offset":5},"encoding":{"x":{"field":"g2","type":"ordinal","axis":null},"y2":{"field":"v"}}},
{"mark":{"type":"text","text":"p","font":"Liberation Serif","fontStyle":"italic","fontSize":11,"align":"right","baseline":"alphabetic","dx":-44,"dy":-6,"color":"#333333"},"encoding":{"x":{"field":"gm","type":"ordinal","axis":null}}},
{"mark":{"type":"text","text":"Hdm−corrected","font":"Liberation Serif","fontSize":8,"align":"right","baseline":"alphabetic","dx":6,"dy":-3.5,"color":"#333333"},"encoding":{"x":{"field":"gm","type":"ordinal","axis":null}}},
{"mark":{"type":"text","font":"Liberation Serif","fontSize":9.5,"align":"left","baseline":"alphabetic","dx":8,"dy":-6,"color":"#333333"},"encoding":{"x":{"field":"gm","type":"ordinal","axis":null},"text":{"field":"lab"}}}
]}
],
"resolve":{"axis":{"x":"independent"},"scale":{"xOffset":"independent"}}
}
],"spacing":20,"resolve":{"scale":{"color":"independent","xOffset":"independent"}}}
]
}
